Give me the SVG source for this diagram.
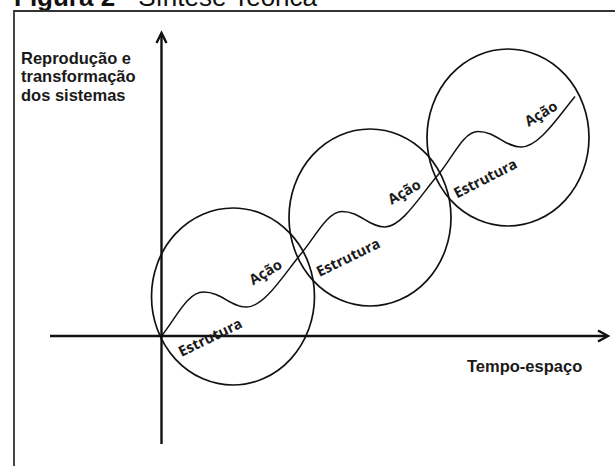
<svg xmlns="http://www.w3.org/2000/svg" width="615" height="466" viewBox="0 0 615 466">
<style>
.frame{fill:none;stroke:#333;stroke-width:1.8}
.axis{fill:none;stroke:#111;stroke-width:2.4}
.head{fill:none;stroke:#111;stroke-width:2.4;stroke-linejoin:miter;stroke-linecap:butt}
.loop{fill:none;stroke:#111;stroke-width:1.7}
.curve{fill:none;stroke:#111;stroke-width:1.5}
.ax{font-family:"Liberation Sans",Arial,sans-serif;font-weight:bold;font-size:16.5px;fill:#1a1a1a}
.lbl{font-family:"Open Sans","Noto Sans",sans-serif;font-weight:700;font-size:14.5px;fill:#1a1a1a}
.title{font-family:"Liberation Sans",Arial,sans-serif;font-size:26px;fill:#111}
</style>
<rect width="615" height="466" fill="#fff"/>
<g id="title">
<text class="title" x="14" y="5.5"><tspan font-weight="bold">Figura 2</tspan> - Síntese Teórica</text>
</g>
<g id="frame">
<path class="frame" d="M14,466 V11 H615"/>
</g>
<g id="axes">
<line class="axis" x1="161.5" y1="444" x2="161.5" y2="33"/>
<path class="head" d="M156.5,43 L161.5,33 L166.5,43"/>
<line class="axis" x1="50" y1="336" x2="607" y2="336"/>
<path class="head" d="M598,330.5 L608,336 L598,341.5"/>
<text class="ax" x="21" y="63.5">Reprodução e</text>
<text class="ax" x="21" y="82.3">transformação</text>
<text class="ax" x="21" y="101">dos sistemas</text>
<text class="ax" x="467" y="372">Tempo-espaço</text>
</g>
<g id="cycle1">
<ellipse class="loop" cx="233" cy="296.5" rx="81.5" ry="88.5"/>
<text class="lbl" transform="translate(181.5,357) rotate(-26)">Estrutura</text>
<text class="lbl" transform="translate(253,285.5) rotate(-31)">Ação</text>
</g>
<g id="cycle2">
<ellipse class="loop" cx="370" cy="217.5" rx="81" ry="88.5"/>
<text class="lbl" transform="translate(319.5,277) rotate(-26)">Estrutura</text>
<text class="lbl" transform="translate(391.5,205) rotate(-30)">Ação</text>
</g>
<g id="cycle3">
<ellipse class="loop" cx="508" cy="137.5" rx="81" ry="88.5"/>
<text class="lbl" transform="translate(457,198.5) rotate(-27)">Estrutura</text>
<text class="lbl" transform="translate(528.5,127) rotate(-31)">Ação</text>
</g>
<g id="connectors">
<path class="curve" d="M161.5,336 C175.5,319 187,292 203.5,292 C222,292 230,307 246.5,307 C264,307 283,276 300,255 C314,239 327,211.5 342,211.5 C360,211.5 369,227 385,227 C402,227 421,194.5 438,175 C452,159 463,131.5 478,131.5 C496,131.5 505,147 521,147 C539,147 558,117 575,96.5"/>
</g>
</svg>
